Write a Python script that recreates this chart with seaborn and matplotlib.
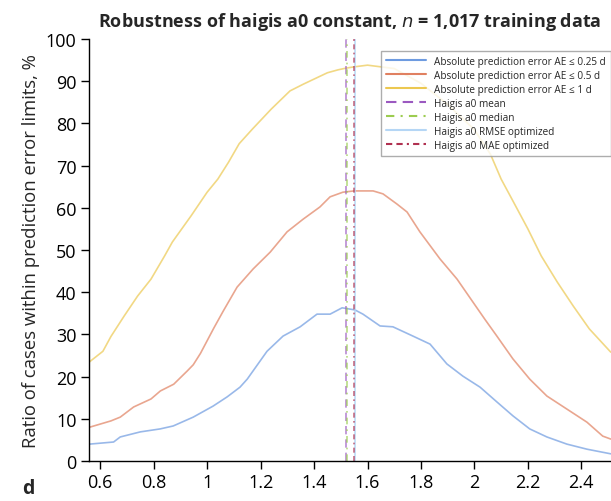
import matplotlib
matplotlib.use("Agg")
import matplotlib.pyplot as plt
import seaborn as sns
import pandas as pd
import numpy as np

# ---- data ----
x_ae1 = [0.56, 0.61, 0.64, 0.69, 0.74, 0.79, 0.84, 0.87, 0.94, 1.0, 1.04, 1.08, 1.12, 1.17, 1.24,
         1.31, 1.36, 1.40, 1.45, 1.49, 1.52, 1.55, 1.6, 1.7, 1.8, 1.9, 2.0, 2.06, 2.10, 2.14, 2.20,
         2.25, 2.31, 2.37, 2.43, 2.51]
y_ae1 = [23.5, 26.0, 29.5, 34.4, 39.1, 43.1, 48.5, 51.9, 58.1, 63.7, 66.8, 70.8, 75.2, 78.7, 83.4,
         87.7, 89.3, 90.5, 92.0, 92.7, 93.1, 93.4, 93.8, 93.0, 89.5, 84.5, 78.5, 72.7, 66.8, 62.1, 55.0,
         48.6, 42.4, 36.7, 31.3, 25.8]

x_ae05 = [0.56, 0.64, 0.675, 0.725, 0.79, 0.825, 0.875, 0.925, 0.948, 0.975, 1.0, 1.025, 1.06, 1.112,
          1.172, 1.236, 1.299, 1.359, 1.422, 1.46, 1.508, 1.55, 1.621, 1.658, 1.71, 1.748, 1.796, 1.871,
          1.935, 1.994, 2.04, 2.084, 2.144, 2.207, 2.271, 2.346, 2.421, 2.48, 2.51]
y_ae05 = [8.0, 9.5, 10.4, 12.8, 14.7, 16.6, 18.2, 21.3, 22.8, 25.5, 28.5, 31.5, 35.5, 41.2,
          45.5, 49.5, 54.3, 57.3, 60.2, 62.6, 63.7, 64.0, 64.0, 63.3, 60.9, 59.0, 54.3, 47.9,
          43.1, 37.7, 33.5, 29.6, 24.2, 19.4, 15.4, 12.3, 9.2, 5.9, 5.2]

x_ae025 = [0.56, 0.65, 0.675, 0.75, 0.824, 0.873, 0.948, 1.022, 1.075, 1.123, 1.15, 1.224, 1.284, 1.348,
           1.411, 1.46, 1.505, 1.553, 1.583, 1.647, 1.695, 1.77, 1.834, 1.897, 1.957, 2.021, 2.084,
           2.144, 2.207, 2.271, 2.346, 2.421, 2.51]
y_ae025 = [4.0, 4.5, 5.7, 6.9, 7.6, 8.3, 10.4, 13.0, 15.2, 17.5, 19.4, 26.0, 29.6, 31.8,
           34.8, 34.8, 36.3, 35.8, 34.8, 32.0, 31.8, 29.6, 27.7, 23.0, 20.1, 17.5, 14.0,
           10.7, 7.6, 5.7, 4.0, 2.8, 1.7]

a0_mean = 1.520
a0_median = 1.522
a0_rmse = 1.553
a0_mae = 1.551

series_labels = ["Absolute prediction error AE \u2264 0.25 d",
                 "Absolute prediction error AE \u2264 0.5 d",
                 "Absolute prediction error AE \u2264 1 d"]
vline_labels = ["Haigis a0 mean", "Haigis a0 median", "Haigis a0 RMSE optimized", "Haigis a0 MAE optimized"]
x_ticks = [0.6, 0.8, 1.0, 1.2, 1.4, 1.6, 1.8, 2.0, 2.2, 2.4]
x_ticklabels = ["0.6", "0.8", "1", "1.2", "1.4", "1.6", "1.8", "2", "2.2", "2.4"]
y_ticks = [0, 10, 20, 30, 40, 50, 60, 70, 80, 90, 100]

# ---- style ----
sns.set_style("ticks")
plt.rcParams['font.family'] = ['Open Sans', 'DejaVu Sans']

fig = plt.figure(figsize=(6.11, 5.02), dpi=100)
ax = fig.add_axes([89/611, 40/502, (611-89)/611, (462-40)/502])

colors = ["#6e9be0", "#e08060", "#ecc850"]
for xs, ys, lab, c in zip([x_ae025, x_ae05, x_ae1], [y_ae025, y_ae05, y_ae1], series_labels, colors):
    df = pd.DataFrame({"x": xs, "y": ys})
    sns.lineplot(data=df, x="x", y="y", ax=ax, color=c, lw=1.2, alpha=0.7, label=lab)

ax.axvline(a0_mean, color="#9b59c0", lw=1.2, alpha=0.7, dashes=(5, 3), label=vline_labels[0])
ax.axvline(a0_median, color="#9ccc50", lw=1.2, alpha=0.7, dashes=(4, 3, 1, 3), label=vline_labels[1])
ax.axvline(a0_rmse, color="#b5d6f5", lw=1.2, alpha=0.9, label=vline_labels[2])
ax.axvline(a0_mae, color="#b03050", lw=1.2, alpha=0.7, dashes=(3, 2, 3, 2, 1, 2), label=vline_labels[3])

ax.set_xlim(0.558, 2.511)
ax.set_ylim(0, 100)
ax.set_xticks(x_ticks)
ax.set_xticklabels(x_ticklabels)
ax.set_yticks(y_ticks)
ax.tick_params(axis="both", labelsize=13, length=6, width=1, colors="black", direction="out", pad=3)
for s in ["left", "bottom"]:
    ax.spines[s].set_color("black")
    ax.spines[s].set_linewidth(1)
sns.despine(ax=ax)

ax.set_xlabel("")
ax.set_ylabel("Ratio of cases within prediction error limits, %", fontsize=13.3, labelpad=4)
ax.set_title("Robustness of haigis a0 constant, $\\bf{\\it{n}}$ = 1,017 training data",
             fontsize=13, fontweight="bold", pad=9)

leg = ax.legend(loc="upper right", bbox_to_anchor=(1.0, 0.972), fontsize=7.2, handlelength=4,
                labelspacing=0.3, frameon=True, fancybox=False, borderaxespad=0.0, borderpad=0.5)
leg.get_frame().set_edgecolor("#999999")
leg.get_frame().set_linewidth(1)
for lh in leg.get_lines():
    lh.set_alpha(1)
    lh.set_linewidth(1.5)

fig.text(22/611, 1 - 494/502, "d", fontsize=14, fontweight="bold", va="baseline", ha="left")

fig.savefig("out.png", dpi=100)
